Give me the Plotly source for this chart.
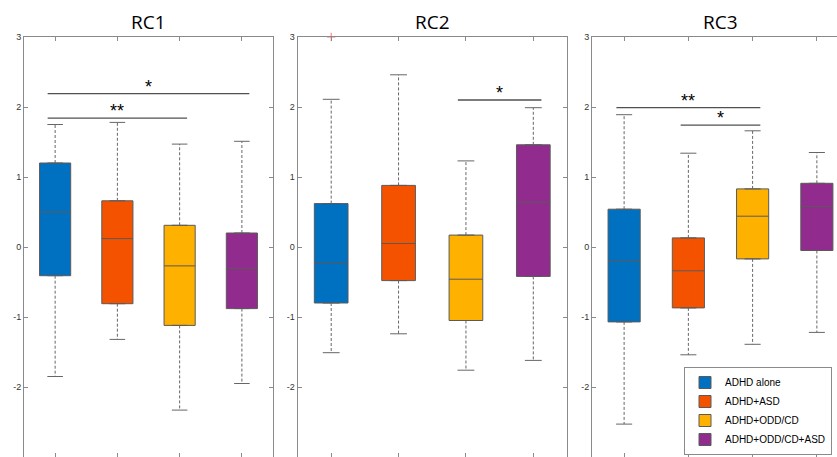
import plotly.graph_objects as go

# ---------------- data ----------------
panels = ["RC1", "RC2", "RC3"]
groups = ["ADHD alone", "ADHD+ASD", "ADHD+ODD/CD", "ADHD+ODD/CD+ASD"]
colors = ["#0070C0", "#F55200", "#FFB100", "#922B8E"]

# per panel: lists over the 4 groups
upper_whisker = {
    "RC1": [1.75, 1.78, 1.47, 1.51],
    "RC2": [2.11, 2.46, 1.23, 1.99],
    "RC3": [1.89, 1.34, 1.66, 1.35],
}
q3 = {
    "RC1": [1.20, 0.66, 0.31, 0.20],
    "RC2": [0.62, 0.88, 0.17, 1.46],
    "RC3": [0.54, 0.13, 0.83, 0.91],
}
median = {
    "RC1": [0.50, 0.12, -0.27, -0.31],
    "RC2": [-0.23, 0.05, -0.46, 0.64],
    "RC3": [-0.20, -0.34, 0.44, 0.58],
}
q1 = {
    "RC1": [-0.41, -0.81, -1.12, -0.88],
    "RC2": [-0.80, -0.48, -1.05, -0.42],
    "RC3": [-1.07, -0.87, -0.17, -0.05],
}
lower_whisker = {
    "RC1": [-1.85, -1.32, -2.33, -1.95],
    "RC2": [-1.51, -1.24, -1.76, -1.62],
    "RC3": [-2.53, -1.54, -1.39, -1.22],
}
# outliers: (panel, group number, value)
outlier_panel = ["RC2"]
outlier_group = [1]
outlier_value = [3.0]

# significance brackets: panel, first group, last group, height, label
sig_panel = ["RC1", "RC1", "RC2", "RC3", "RC3"]
sig_from = [1, 1, 3, 1, 2]
sig_to = [4, 3, 4, 3, 3]
sig_y = [2.19, 1.84, 2.10, 1.99, 1.74]
sig_label = ["*", "**", "*", "**", "*"]

y_ticks = [-3, -2, -1, 0, 1, 2, 3]
y_tick_text = ["-3", "-2", "-1", "0", "1", "2", "3"]
positions = [1, 2, 3, 4]

# ---------------- figure ----------------
W, H = 837, 457
fig = go.Figure()

axis_names = {"RC1": ("x", "y"), "RC2": ("x2", "y2"), "RC3": ("x3", "y3")}
box_w = 0.5
cap_half = 0.125
grey = "#8a8a8a"

for pi, p in enumerate(panels):
    xa, ya = axis_names[p]
    for gi, g in enumerate(groups):
        pos = positions[gi]
        # whiskers (dashed)
        fig.add_trace(go.Scatter(
            x=[pos, pos, None, pos, pos],
            y=[q3[p][gi], upper_whisker[p][gi], None, q1[p][gi], lower_whisker[p][gi]],
            mode="lines", line=dict(color="#666666", width=1, dash="3px,2px"),
            hoverinfo="skip", showlegend=False, xaxis=xa, yaxis=ya))
        # caps
        fig.add_trace(go.Scatter(
            x=[pos - cap_half, pos + cap_half, None, pos - cap_half, pos + cap_half],
            y=[upper_whisker[p][gi], upper_whisker[p][gi], None,
               lower_whisker[p][gi], lower_whisker[p][gi]],
            mode="lines", line=dict(color="#666666", width=1),
            hoverinfo="skip", showlegend=False, xaxis=xa, yaxis=ya))
        # box
        fig.add_trace(go.Box(
            x=[pos], q1=[q1[p][gi]], median=[median[p][gi]], q3=[q3[p][gi]],
            lowerfence=[q1[p][gi]], upperfence=[q3[p][gi]],
            width=box_w, fillcolor=colors[gi],
            line=dict(color="#5a5a5a", width=1),
            name=g, legendgroup=g, showlegend=(p == "RC3"),
            hoverinfo="skip", xaxis=xa, yaxis=ya))

# outliers
for p, gi, v in zip(outlier_panel, outlier_group, outlier_value):
    xa, ya = axis_names[p]
    fig.add_trace(go.Scatter(
        x=[positions[gi - 1]], y=[v], mode="markers", cliponaxis=False,
        marker=dict(symbol="cross-thin", size=6, line=dict(color="#ff7070", width=1)),
        showlegend=False, hoverinfo="skip", xaxis=xa, yaxis=ya))

# significance brackets
pad = 0.12
for p, a, b, yv, lab in zip(sig_panel, sig_from, sig_to, sig_y, sig_label):
    xa, ya = axis_names[p]
    fig.add_trace(go.Scatter(
        x=[a - pad, b + pad], y=[yv, yv], mode="lines",
        line=dict(color="#505050", width=1.3),
        showlegend=False, hoverinfo="skip", xaxis=xa, yaxis=ya))
    fig.add_annotation(
        x=(a - pad + b + pad) / 2, y=yv, xref=xa, yref=ya,
        text=lab, showarrow=False, yanchor="middle", yshift=7,
        font=dict(family="Liberation Sans", size=18, color="black"))

# panel titles
for p in panels:
    xa, ya = axis_names[p]
    fig.add_annotation(
        x=2.5, y=1, xref=xa, yref="paper", text=p, showarrow=False,
        yanchor="middle", yshift=15,
        font=dict(family="Open Sans", size=19, color="black"))

# axes layout
domains = [[24 / W, 273 / W], [297.5 / W, 567 / W], [592 / W, 1.0]]
xranges = [[0.5, 4.5], [0.5, 4.5], [0.5, 4.5 - (849 - W) / 64.3]]
for i in range(3):
    sfx = "" if i == 0 else str(i + 1)
    fig.update_layout(**{
        "xaxis" + sfx: dict(
            domain=domains[i], range=xranges[i], tickvals=positions,
            showticklabels=False, ticks="inside", ticklen=4,
            tickcolor=grey, showline=True, linecolor=grey, linewidth=1,
            mirror="ticks", showgrid=False, zeroline=False,
            anchor="y" + sfx),
        "yaxis" + sfx: dict(
            range=[-3, 3], tickvals=y_ticks, ticktext=y_tick_text,
            ticks="inside", ticklen=4,
            tickcolor=grey, showline=True, linecolor=grey, linewidth=1,
            mirror=("ticks" if i < 2 else False), showgrid=False, zeroline=False,
            tickfont=dict(family="Liberation Sans", size=9, color="#333333"),
            anchor="x" + sfx),
    })

fig.update_layout(
    width=W, height=H,
    margin=dict(l=0, r=0, t=37, b=0),
    paper_bgcolor="white", plot_bgcolor="white",
    boxmode="overlay",
    legend=dict(
        x=832 / W, y=(457 - 411) / 420, xanchor="right", yanchor="middle",
        bgcolor="white", bordercolor="#8a8a8a", borderwidth=1,
        font=dict(family="Liberation Sans", size=10, color="black"),
        tracegroupgap=0, itemwidth=30),
)

fig.write_html(
    "out.html",
    config={"displayModeBar": False},
    post_script="document.body.style.margin='0';document.body.style.overflow='hidden';",
)
